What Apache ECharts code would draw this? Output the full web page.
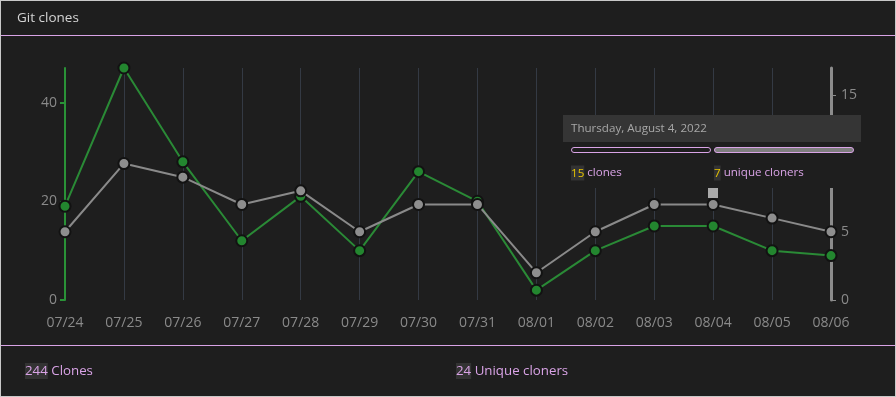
<!DOCTYPE html>
<html><head><meta charset="utf-8">
<script src="https://cdn.jsdelivr.net/npm/echarts@6/dist/echarts.min.js"></script>
<style>
html,body{margin:0;padding:0;background:#1e1e1e;}
#c{width:894px;height:395px;border:1px solid #c8c8c8;}
</style></head>
<body><div id="c"></div>
<script>
const categories = ['07/24','07/25','07/26','07/27','07/28','07/29','07/30','07/31','08/01','08/02','08/03','08/04','08/05','08/06'];
const clones = [19,47,28,12,21,10,26,20,2,10,15,15,10,9];
const uniqueCloners = [5,10,9,7,8,5,7,7,2,5,7,7,6,5];
const leftTicks = [0,20,40];
const rightTicks = [0,5,15];
const totalClones = 244;
const totalUnique = 24;
const tipDate = 'Thursday, August 4, 2022';
const tipClones = 15;
const tipUnique = 7;

const violet = '#d9a3e6';
const font = '"Open Sans", "Noto Sans", sans-serif';
const tipFont = '11.6px ' + font;
const chart = echarts.init(document.getElementById('c'));
chart.setOption({
  backgroundColor: '#1e1e1e',
  animation: false,
  grid: {left: 64, right: 64, top: 67, bottom: 96},
  xAxis: {
    type: 'category', data: categories, boundaryGap: false,
    axisLine: {show: false}, axisTick: {show: false},
    axisLabel: {color: '#8a8a8a', fontSize: 14, fontFamily: font, margin: 16},
    splitLine: {show: true, lineStyle: {color: '#343a44', width: 1}}
  },
  yAxis: [
    {type: 'value', min: 0, max: 47, interval: 20,
     axisLine: {show: true, lineStyle: {color: '#2a9237', width: 2}},
     axisTick: {show: true, length: 5, lineStyle: {color: '#2a9237', width: 2},
       customValues: leftTicks},
     axisLabel: {color: '#8a8a8a', fontSize: 14, fontFamily: font, margin: 8,
       customValues: leftTicks},
     splitLine: {show: false}},
    {type: 'value', min: 0, max: 17, position: 'right',
     axisLine: {show: true, lineStyle: {color: '#8c8c8c', width: 3}},
     axisTick: {show: true, length: 5, lineStyle: {color: '#8c8c8c', width: 1},
       customValues: rightTicks},
     axisLabel: {color: '#8a8a8a', fontSize: 14, fontFamily: font, margin: 10,
       customValues: rightTicks},
     splitLine: {show: false}}
  ],
  series: [
    {type: 'line', name: 'clones', data: clones, yAxisIndex: 0, z: 3,
     symbol: 'circle', symbolSize: 11,
     lineStyle: {color: '#2a8a36', width: 2},
     itemStyle: {color: '#23862f', borderColor: '#121212', borderWidth: 2}},
    {type: 'line', name: 'unique', data: uniqueCloners, yAxisIndex: 1, z: 4,
     symbol: 'circle', symbolSize: 11,
     lineStyle: {color: '#8a8a8a', width: 2},
     itemStyle: {color: '#8e8e8e', borderColor: '#121212', borderWidth: 2}}
  ],
  graphic: [
    {type: 'text', left: 16, top: 10, style: {text: 'Git clones', fill: '#d4d4d4', font: '13.5px ' + font}},
    {type: 'line', shape: {x1: 0, y1: 34.5, x2: 894, y2: 34.5}, style: {stroke: violet, lineWidth: 1}},
    {type: 'line', shape: {x1: 0, y1: 344.5, x2: 894, y2: 344.5}, style: {stroke: violet, lineWidth: 1}},
    {type: 'text', left: 24, top: 362, style: {
      text: '{n|' + totalClones + '} Clones',
      rich: {n: {backgroundColor: '#333333', fill: violet, font: '13.3px ' + font, padding: [2, 0, 1, 0]}},
      fill: violet, font: '13.3px ' + font}},
    {type: 'text', left: 455, top: 362, style: {
      text: '{n|' + totalUnique + '} Unique cloners',
      rich: {n: {backgroundColor: '#333333', fill: violet, font: '13.3px ' + font, padding: [2, 0, 1, 0]}},
      fill: violet, font: '13.3px ' + font}},
    {type: 'group', z: 100, children: [
      {type: 'rect', shape: {x: 562, y: 114, width: 298, height: 73}, style: {fill: '#1e1e1e'}, z: 100},
      {type: 'rect', shape: {x: 562, y: 114, width: 298, height: 27}, style: {fill: '#353535'}, z: 101},
      {type: 'text', x: 570, y: 128, style: {text: tipDate, fill: '#a8a8a8', font: tipFont, textVerticalAlign: 'middle'}, z: 102},
      {type: 'rect', shape: {x: 570.5, y: 146.5, width: 139, height: 5, r: 3}, style: {fill: '#1e1e1e', stroke: violet, lineWidth: 1}, z: 102},
      {type: 'rect', shape: {x: 713.5, y: 146.5, width: 139, height: 5, r: 3}, style: {fill: '#7e7e7e', stroke: violet, lineWidth: 1}, z: 102},
      {type: 'text', x: 570, y: 172, style: {
        text: '{n|' + tipClones + '} clones', fill: violet, font: tipFont, textVerticalAlign: 'middle',
        rich: {n: {backgroundColor: '#333333', fill: '#e8c400', font: tipFont, padding: [2, 0, 1, 0]}}}, z: 102},
      {type: 'text', x: 713, y: 172, style: {
        text: '{n|' + tipUnique + '} unique cloners', fill: violet, font: tipFont, textVerticalAlign: 'middle',
        rich: {n: {backgroundColor: '#333333', fill: '#e8c400', font: tipFont, padding: [2, 0, 1, 0]}}}, z: 102},
      {type: 'rect', shape: {x: 707, y: 187, width: 10, height: 10}, style: {fill: '#aaaaaa'}, z: 102}
    ]}
  ]
});
</script></body></html>
